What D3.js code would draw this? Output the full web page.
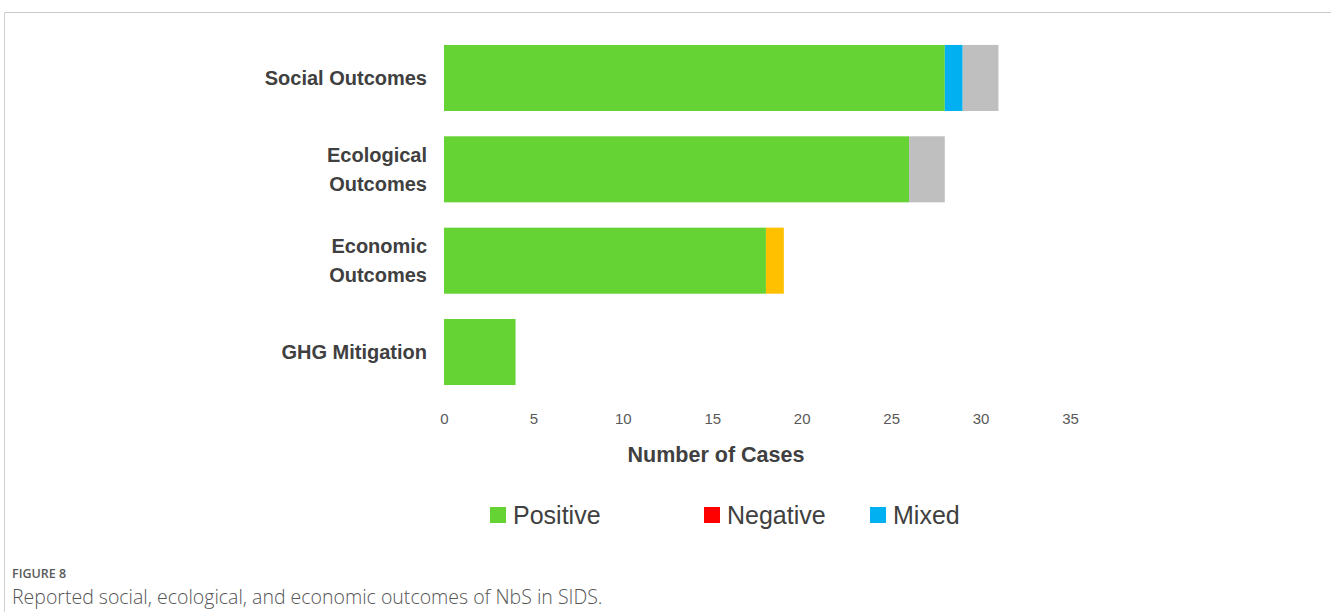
<!DOCTYPE html>
<html><head><meta charset="utf-8">
<script src="https://cdn.jsdelivr.net/npm/d3@7"></script>
<style>
html,body{margin:0;padding:0;background:#fff;}
svg{display:block;}
</style></head>
<body>
<svg id="chart" width="1331" height="612"></svg>
<script>
const categories = ["Social Outcomes", "Ecological Outcomes", "Economic Outcomes", "GHG Mitigation"];
const categoryLines = [["Social Outcomes"], ["Ecological", "Outcomes"], ["Economic", "Outcomes"], ["GHG Mitigation"]];
const positive = [28, 26, 18, 4];
const negative = [0, 0, 0, 0];
const mixed = [1, 0, 0, 0];
const yellowSeries = [0, 0, 1, 0];
const graySeries = [2, 2, 0, 0];
const xTicks = [0, 5, 10, 15, 20, 25, 30, 35];
const legendLabels = ["Positive", "Negative", "Mixed"];
const xTitle = "Number of Cases";
const figLabel = "FIGURE 8";
const figCaption = "Reported social, ecological, and economic outcomes of NbS in SIDS.";

const seriesKeys = ["Positive", "Negative", "Mixed", "Other1", "Other2"];
const seriesColors = {Positive:"#66d334", Negative:"#ff0000", Mixed:"#00b0f0", Other1:"#ffc000", Other2:"#bfbfbf"};

const table = categories.map((c, i) => ({
  cat: c, Positive: positive[i], Negative: negative[i], Mixed: mixed[i], Other1: yellowSeries[i], Other2: graySeries[i]
}));

const svg = d3.select("#chart");

// frame lines
svg.append("line").attr("x1", 4.5).attr("x2", 1331).attr("y1", 12.5).attr("y2", 12.5)
  .attr("stroke", "#c8c8c8").attr("stroke-width", 1);
svg.append("line").attr("x1", 4.5).attr("x2", 4.5).attr("y1", 12.5).attr("y2", 612)
  .attr("stroke", "#d0d0d0").attr("stroke-width", 1);

const x = d3.scaleLinear().domain([0, 35]).range([444, 1070]);
const y = d3.scaleBand().domain(categories).range([32.3, 397.7]).paddingInner(0.277).paddingOuter(0.1385);

const stacked = d3.stack().keys(seriesKeys)(table);

svg.append("g").selectAll("g").data(stacked).join("g")
  .attr("fill", d => seriesColors[d.key])
  .selectAll("rect").data(d => d).join("rect")
  .attr("x", d => x(d[0]))
  .attr("y", d => y(d.data.cat))
  .attr("width", d => Math.max(0, x(d[1]) - x(d[0])))
  .attr("height", y.bandwidth());

// x axis (labels only)
const xAxis = d3.axisBottom(x).tickValues(xTicks).tickSize(0).tickPadding(0);
const gx = svg.append("g").attr("transform", "translate(0,413)").call(xAxis);
gx.select(".domain").remove();
gx.selectAll("text").attr("font-family", "Liberation Sans, Arial, sans-serif")
  .attr("font-size", 15).attr("fill", "#595959").attr("dy", "0.71em");

svg.append("text").attr("x", 716).attr("y", 462).attr("text-anchor", "middle")
  .attr("font-family", "Liberation Sans, Arial, sans-serif").attr("font-weight", "bold")
  .attr("font-size", 21.5).attr("fill", "#404040").text(xTitle);

// y labels
const ylab = svg.append("g");
categories.forEach((c, i) => {
  const lines = categoryLines[i];
  const cy = y(c) + y.bandwidth() / 2;
  const lh = 29;
  const t = ylab.append("text").attr("text-anchor", "end")
    .attr("font-family", "Liberation Sans, Arial, sans-serif").attr("font-weight", "bold")
    .attr("font-size", 20).attr("fill", "#404040");
  lines.forEach((ln, j) => {
    t.append("tspan").attr("x", 427)
      .attr("y", cy + (j - (lines.length - 1) / 2) * lh)
      .attr("dy", "0.35em").text(ln);
  });
});

// legend
const legendX = [490, 704, 870];
const lg = svg.append("g");
legendLabels.forEach((l, i) => {
  lg.append("rect").attr("x", legendX[i]).attr("y", 507).attr("width", 16).attr("height", 16)
    .attr("fill", seriesColors[l]);
  lg.append("text").attr("x", legendX[i] + 23).attr("y", 515).attr("dy", "0.35em")
    .attr("font-family", "Liberation Sans, Arial, sans-serif").attr("font-size", 25)
    .attr("fill", "#404040").text(l);
});

// caption
svg.append("text").attr("x", 12).attr("y", 578)
  .attr("font-family", "Open Sans, sans-serif").attr("font-weight", 600)
  .attr("font-size", 12.5).attr("fill", "#5a5a5a").text(figLabel);
svg.append("text").attr("x", 12).attr("y", 604)
  .attr("font-family", "Open Sans, sans-serif").attr("font-weight", 300)
  .attr("font-size", 19.5).attr("fill", "#555").text(figCaption);
</script>
</body></html>
